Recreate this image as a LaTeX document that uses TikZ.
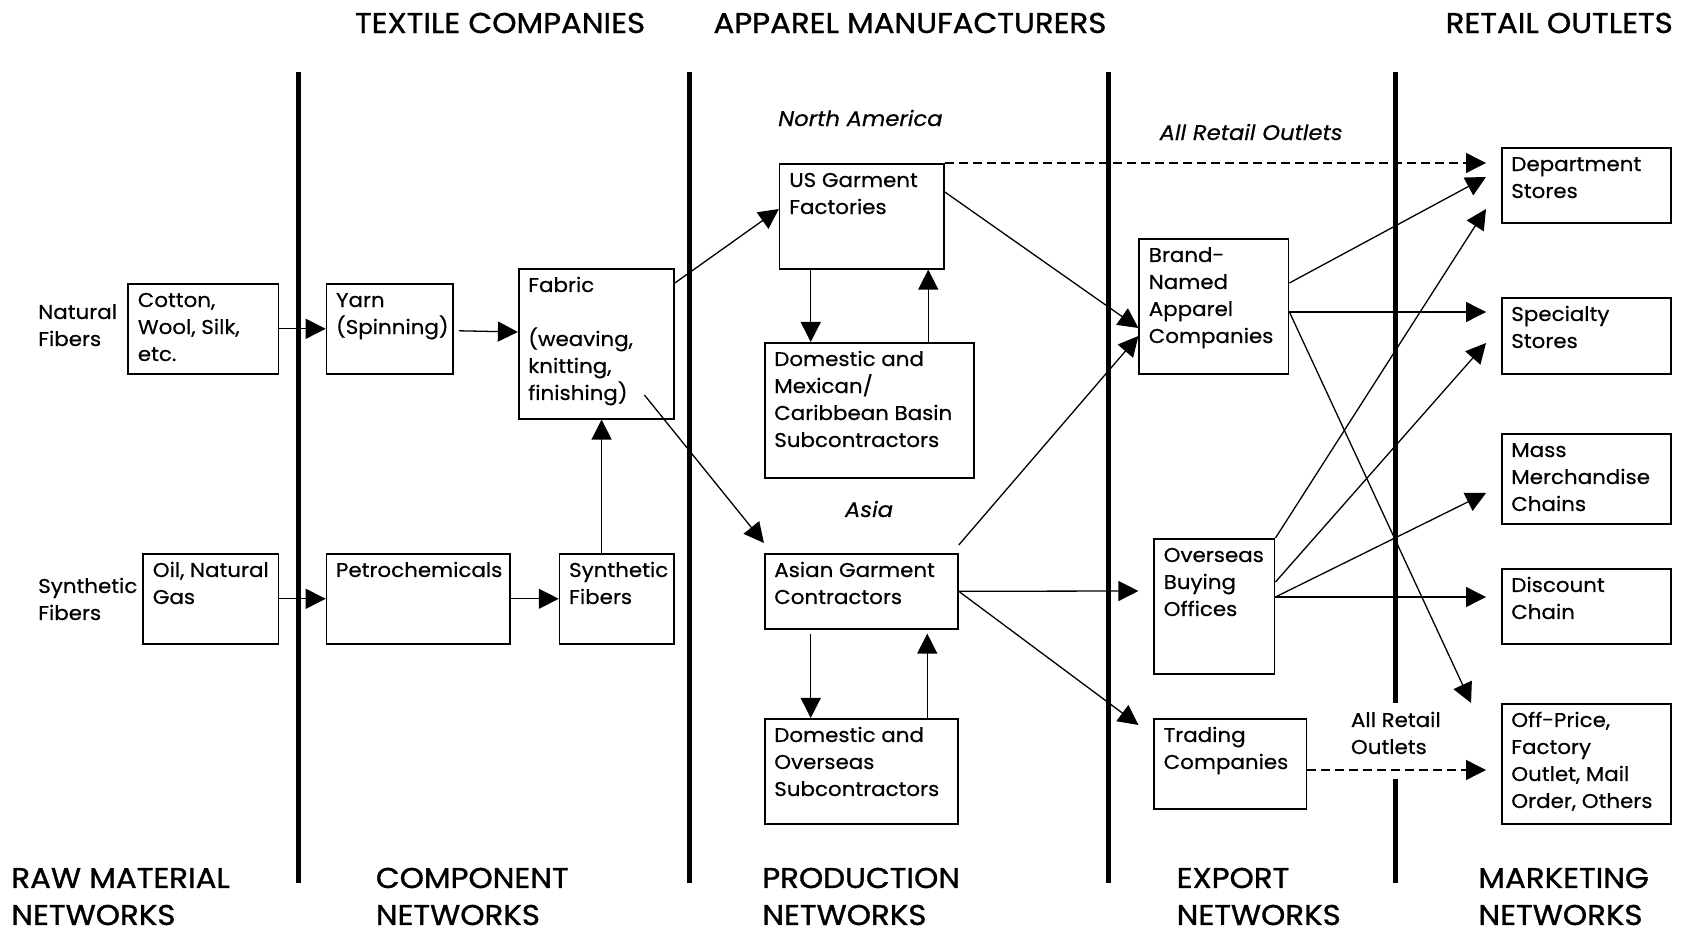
\documentclass[tikz,border=0pt]{standalone}
\usepackage{fontspec}
\setmainfont{Poppins}[FakeStretch=1.07,FakeBold=0.5]
\newfontfamily\headfont{Poppins}[FakeStretch=1.08,FakeBold=1.1]
\usetikzlibrary{arrows.meta,calc}
\newcommand{\mytab}[1]{\begin{tabular}[t]{@{}l@{}}#1\end{tabular}}
\newcommand{\bx}[5]{\node[box,minimum width={(#4-#2)*0.498pt},minimum height={(#5-#3)*0.5pt}] (#1) at (#2,#3) {};}
\newcommand{\bt}[2]{\node[txt] (#1T) at ($(#1.north west)+(10,24)$) {\mytab{#2}};}
\begin{document}
\begin{tikzpicture}[x=0.498pt,y=-0.5pt,
  box/.style={draw,line width=0.8pt,inner sep=0,anchor=north west},
  txt/.style={inner sep=0,anchor=base west,font=\fontsize{10}{13.5}\selectfont},
  head/.style={inner sep=0,anchor=base west,font=\headfont\fontsize{14.3}{18.5}\selectfont},
  ital/.style={inner sep=0,anchor=base west,font=\fontsize{10.6}{13}\selectfont\itshape},
  conn/.style={line width=0.65pt,-{Triangle[length=10pt,width=10pt]}},
  dconn/.style={conn,dash pattern=on 4.5pt off 2.5pt},
  sep/.style={line width=2.5pt}]
\useasboundingbox (0,0) rectangle (1691.8,932);
% separators
\draw[sep] (300,72) -- (300,883);
\draw[sep] (692,72) -- (692,883);
\draw[sep] (1113,72) -- (1113,883);
\draw[sep] (1401,72) -- (1401,703);
\draw[sep] (1401,779) -- (1401,883);
% headings
\node[head] (h1) at (356,33) {TEXTILE COMPANIES};
\node[head] (h2) at (716,33) {APPAREL MANUFACTURERS};
\node[head,anchor=base east] (h3) at (1680,33) {RETAIL OUTLETS};
\node[head] (b1) at (11,888) {\mytab{RAW MATERIAL\\NETWORKS}};
\node[head] (b2) at (377,888) {\mytab{COMPONENT\\NETWORKS}};
\node[head] (b3) at (765,888) {\mytab{PRODUCTION\\NETWORKS}};
\node[head] (b4) at (1181,888) {\mytab{EXPORT\\NETWORKS}};
\node[head] (b5) at (1484,888) {\mytab{MARKETING\\NETWORKS}};
% side labels
\node[txt] (nat) at (38,319) {\mytab{Natural\\Fibers}};
\node[txt] (syn) at (38,593) {\mytab{Synthetic\\Fibers}};
\node[ital] (na) at (781,126) {North America};
\node[ital] (aro) at (1164,140) {All Retail Outlets};
\node[ital] (asia) at (848,517) {Asia};
\node[txt] (aro2) at (1356,727) {\mytab{All Retail\\Outlets}};
% boxes
\bx{cot}{128}{283}{279}{373}
\bx{yarn}{327}{283}{454}{373}
\bx{fab}{520}{268}{676}{418}
\bx{oil}{143}{553}{279}{643}
\bx{petro}{327}{553}{511}{643}
\bx{synth}{561}{553}{676}{643}
\bx{us}{782}{163}{947}{268}
\bx{dom}{767}{342}{977}{477}
\bx{asian}{767}{553}{961}{628}
\bx{dom2}{767}{718}{961}{823}
\bx{brand}{1143}{238}{1293}{373}
\bx{over}{1158}{538}{1279}{673}
\bx{trad}{1158}{718}{1311}{808}
\bx{dept}{1507}{147}{1677}{222}
\bx{spec}{1507}{297}{1677}{373}
\bx{mass}{1507}{433}{1677}{523}
\bx{disc}{1507}{568}{1677}{643}
\bx{off}{1507}{703}{1677}{823}
% box texts
\bt{cot}{Cotton,\\Wool, Silk,\\etc.}
\bt{yarn}{Yarn\\(Spinning)}
\bt{fab}{Fabric\\ \\(weaving,\\knitting,\\finishing)}
\bt{oil}{Oil, Natural\\Gas}
\bt{petro}{Petrochemicals}
\bt{synth}{Synthetic\\Fibers}
\bt{us}{US Garment\\Factories}
\bt{dom}{Domestic and\\Mexican/\\Caribbean Basin\\Subcontractors}
\bt{asian}{Asian Garment\\Contractors}
\bt{dom2}{Domestic and\\Overseas\\Subcontractors}
\bt{brand}{Brand-\\Named\\Apparel\\Companies}
\bt{over}{Overseas\\Buying\\Offices}
\bt{trad}{Trading\\Companies}
\bt{dept}{Department\\Stores}
\bt{spec}{Specialty\\Stores}
\bt{mass}{Mass\\Merchandise\\Chains}
\bt{disc}{Discount\\Chain}
\bt{off}{Off-Price,\\Factory\\Outlet, Mail\\Order, Others}
% connectors
\draw[conn] (cot.east) -- (yarn.west);
\draw[conn] ($(yarn.east)+(5,2)$) -- ($(fab.north west)+(0,64)$);
\draw[conn] (oil.east) -- (petro.west);
\draw[conn] (petro.east) -- (synth.west);
\draw[conn] ($(synth.north west)+(43,0)$) -- ($(fab.south west)+(84,0)$);
\draw[conn] ($(fab.north east)+(0,15)$) -- ($(us.north west)+(0,46)$);
\draw[conn] ($(fab.north west)+(127,127)$) -- ($(asian.north west)+(0,-10)$);
\draw[conn] ($(us.south west)+(32,0)$) -- ($(dom.north west)+(47,0)$);
\draw[conn] ($(dom.north west)+(165,0)$) -- ($(us.south west)+(150,0)$);
\draw[conn] ($(asian.south west)+(47,4)$) -- ($(dom2.north west)+(47,0)$);
\draw[conn] ($(dom2.north west)+(164,0)$) -- ($(asian.south west)+(164,4)$);
\draw[conn] ($(us.north east)+(0,29)$) -- ($(brand.north west)+(0,90)$);
\draw[dconn] (us.north east) -- ($(dept.north west)+(-15,16)$);
\draw[conn] ($(asian.north east)+(0,-8)$) -- ($(brand.north west)+(0,98)$);
\draw[conn] (asian.east) -- ($(over.north west)+(-15,53)$);
\draw[conn] (asian.east) -- ($(trad.north west)+(-15,7)$);
\draw[conn] ($(brand.north east)+(0,45)$) -- ($(dept.north west)+(-15,30)$);
\draw[conn] ($(brand.north east)+(0,74)$) -- ($(spec.north west)+(-15,15)$);
\draw[conn] ($(brand.north east)+(0,74)$) -- ($(off.north west)+(-30,0)$);
\draw[conn] (over.north east) -- ($(dept.north west)+(-15,62)$);
\draw[conn] ($(over.north east)+(0,44)$) -- ($(spec.north west)+(-15,46)$);
\draw[conn] ($(over.north east)+(0,59)$) -- ($(mass.north west)+(-15,60)$);
\draw[conn] ($(over.north east)+(0,59)$) -- ($(disc.north west)+(-15,29)$);
\draw[dconn] ($(trad.north east)+(0,52)$) -- ($(off.north west)+(-15,67)$);
\end{tikzpicture}
\end{document}
